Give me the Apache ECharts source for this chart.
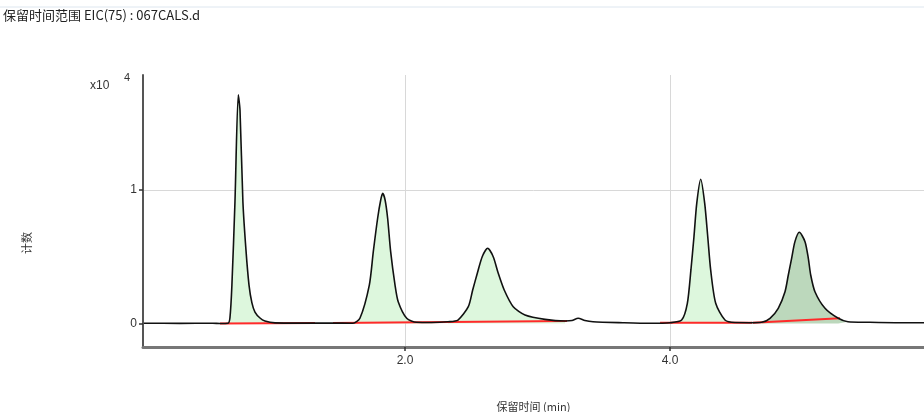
<!DOCTYPE html>
<html><head><meta charset="utf-8">
<script src="https://cdn.jsdelivr.net/npm/echarts@6/dist/echarts.min.js"></script>
<style>html,body{margin:0;padding:0;background:#fff;overflow:hidden}#c{width:924px;height:412px}</style>
</head><body><div id="c"></div>
<script>
// Retention time (min) and counts (x10^4)
const times = [0.03,0.30,0.55,0.604,0.664,0.679,0.694,0.717,0.742,0.755,0.777,0.800,0.823,0.845,0.868,0.906,0.943,1.019,1.20,1.45,
  1.608,1.660,1.731,1.761,1.794,1.817,1.832,1.850,1.869,1.892,1.925,1.949,2.013,2.088,2.20,2.325,
  2.400,2.478,2.511,2.546,2.583,2.624,2.666,2.704,2.749,2.817,2.906,3.057,3.208,3.26,3.307,3.358,3.419,3.645,3.849,4.0,
  4.088,4.131,4.158,4.181,4.202,4.232,4.262,4.285,4.307,4.345,4.415,4.491,4.60,
  4.692,4.755,4.817,4.868,4.893,4.918,4.943,4.976,5.019,5.044,5.062,5.094,5.170,5.270,5.343,5.50,5.70,5.917];
const counts = [0.002,0.001,0.002,0.0,0.002,0.041,0.288,0.910,1.712,1.599,0.910,0.551,0.288,0.154,0.086,0.041,0.019,0.005,0.003,0.003,
  0.002,0.039,0.288,0.538,0.790,0.925,0.975,0.925,0.790,0.538,0.288,0.163,0.039,0.009,0.007,0.013,
  0.026,0.126,0.251,0.376,0.500,0.563,0.500,0.376,0.251,0.126,0.064,0.031,0.019,0.022,0.039,0.022,0.013,0.006,0.002,0.006,
  0.026,0.151,0.401,0.650,0.900,1.080,0.900,0.650,0.401,0.151,0.026,0.007,0.006,
  0.009,0.039,0.114,0.238,0.363,0.488,0.613,0.683,0.613,0.488,0.363,0.238,0.114,0.039,0.013,0.009,0.006,0.006];
// Integrated peaks: [start, end] time of filled area
const peakRanges = [[0.664,1.019],[1.608,2.325],[2.325,3.208],[4.0,4.491],[4.692,5.343]];
const peakFill = ['#ddf7dd','#ddf7dd','#ddf7dd','#ddf7dd','#bcd8bc'];
// Integration baselines: [t0, v0, t1, v1]
const baselines = [[0.604,0.0,1.321,0.004],[1.457,0.004,3.223,0.018],[3.925,0.006,4.619,0.006],[4.626,0.006,5.283,0.039]];
// Axis labels
const xTicks = [2, 4];
const yTicks = [0, 1];
const title = '保留时间范围 EIC(75) : 067CALS.d';
const xName = '保留时间 (min)';
const yName = '计数';

const pts = times.map((t,i)=>[t,counts[i]]);
const series = [];
peakRanges.forEach((r,k)=>{
  series.push({type:'line', data: pts.filter(p=>p[0]>=r[0]-1e-9 && p[0]<=r[1]+1e-9), symbol:'none', smooth:0.25,
    lineStyle:{width:0}, areaStyle:{color:peakFill[k], opacity:1}, silent:true, z:1});
});
baselines.forEach(b=>{
  series.push({type:'line', data:[[b[0],b[1]],[b[2],b[3]]], symbol:'none', lineStyle:{color:'#ff2a2a', width:2}, silent:true, z:3});
});
series.push({type:'line', data: pts, symbol:'none', smooth:0.25, lineStyle:{color:'#111', width:1.6}, z:4,
  markLine:{silent:true, symbol:'none', label:{show:false}, lineStyle:{color:'#d8d8d8', width:1, type:'solid'},
    data:[{xAxis:2},{xAxis:4},{yAxis:1}], z:0}});

const chart = echarts.init(document.getElementById('c'), null, {renderer:'canvas'});
chart.setOption({
  animation:false,
  backgroundColor:'#fff',
  grid:{left:143, right:0, top:75, bottom:65, containLabel:false, outerBoundsMode:'none'},
  xAxis:{type:'value', min:0.023, max:5.917,
    name:xName, nameLocation:'middle', nameGap:54,
    nameTextStyle:{fontFamily:'"Noto Sans CJK SC", "Liberation Sans", sans-serif', fontSize:11, color:'#333'},
    axisLine:{show:true, onZero:false, lineStyle:{color:'#777', width:3}},
    axisTick:{show:true, customValues:xTicks, length:4, lineStyle:{color:'#333', width:1.5}},
    axisLabel:{customValues:xTicks, formatter:v=>v.toFixed(1), fontFamily:'"Liberation Sans", sans-serif', fontSize:12, color:'#333', margin:8},
    splitLine:{show:false}},
  yAxis:{type:'value', min:-0.176, max:1.861,
    axisLine:{show:true, onZero:false, lineStyle:{color:'#555', width:2}},
    axisTick:{show:true, customValues:yTicks, length:4, lineStyle:{color:'#333', width:1.5}},
    axisLabel:{customValues:yTicks, formatter:v=>String(v), fontFamily:'"Liberation Sans", sans-serif', fontSize:12, color:'#333', margin:6},
    splitLine:{show:false}},
  graphic:[
    {type:'line', shape:{x1:0,y1:7,x2:924,y2:7}, style:{stroke:'#dde6ef', lineWidth:1}},
    {type:'text', x:3, y:15, style:{text:title, fontSize:13, fontFamily:'"Noto Sans CJK SC", "Liberation Sans", sans-serif', fill:'#222', verticalAlign:'middle'}},
    {type:'text', x:90, y:86, style:{text:'x10', fontSize:12, fontFamily:'"Liberation Sans", sans-serif', fill:'#333', verticalAlign:'middle'}},
    {type:'text', x:124, y:78, style:{text:'4', fontSize:11, fontFamily:'"Liberation Sans", sans-serif', fill:'#333', verticalAlign:'middle'}},
    {type:'text', x:27, y:243, rotation:Math.PI/2, style:{text:yName, fontSize:11, fontFamily:'"Noto Sans CJK SC", sans-serif', fill:'#333', align:'center', verticalAlign:'middle'}}
  ],
  series:series
});
</script></body></html>
